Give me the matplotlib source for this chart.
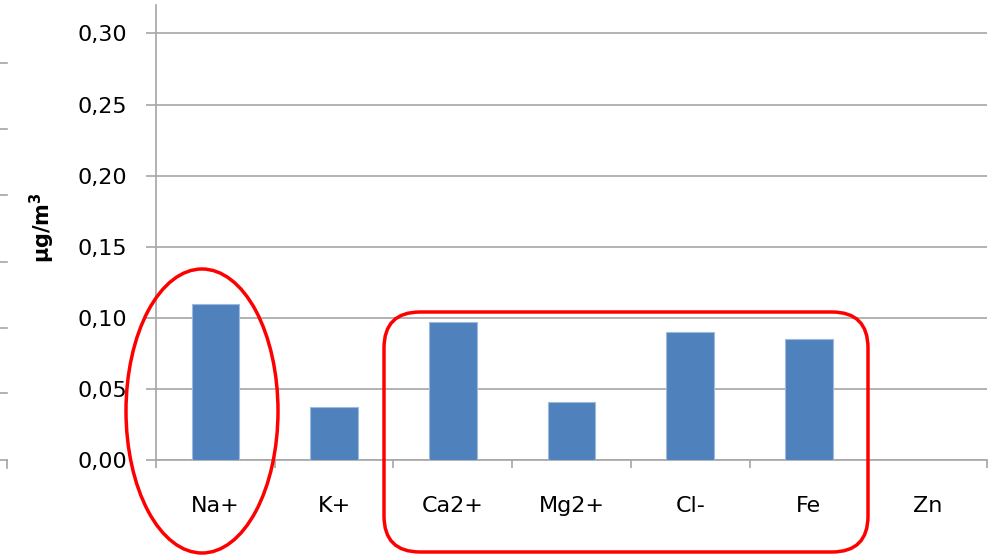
import matplotlib.pyplot as plt
from matplotlib.patches import Ellipse, FancyBboxPatch
from matplotlib.lines import Line2D
from matplotlib.ticker import FuncFormatter, FixedLocator

ions = ['Na+', 'K+', 'Ca2+', 'Mg2+', 'Cl-', 'Fe', 'Zn']
conc = [0.110, 0.037, 0.097, 0.041, 0.090, 0.085, 0.0]

W, H = 990, 556
fig = plt.figure(figsize=(W / 100, H / 100), dpi=100)
ax = fig.add_axes([156 / W, 1 - 460 / H, 831 / W, 455 / H])

x = range(len(ions))
ax.bar(x, conc, width=0.4, color='#4F81BD', edgecolor='#9DB9DE', linewidth=0.8, zorder=3)

ax.set_xlim(-0.5, len(ions) - 0.5)
ax.set_ylim(0, 0.32)
ax.yaxis.set_major_locator(FixedLocator([0, 0.05, 0.10, 0.15, 0.20, 0.25, 0.30]))
ax.yaxis.set_major_formatter(FuncFormatter(lambda v, p: f'{v:.2f}'.replace('.', ',')))
ax.grid(axis='y', color='#A6A6A6', linewidth=1.2, zorder=0)

# category boundaries carry the tick marks, names sit in between
ax.set_xticks([i - 0.5 for i in range(len(ions) + 1)])
ax.set_xticklabels([])
ax.set_xticks(list(x), minor=True)
ax.set_xticklabels(ions, minor=True, fontsize=16)
ax.tick_params(axis='x', which='major', length=6, color='#A6A6A6', width=1.2)
ax.tick_params(axis='x', which='minor', length=0, pad=26)
ax.tick_params(axis='y', length=7, color='#A6A6A6', width=1.2, pad=14, labelsize=16)

for s in ['top', 'right']:
    ax.spines[s].set_visible(False)
for s in ['left', 'bottom']:
    ax.spines[s].set_color('#A6A6A6')
    ax.spines[s].set_linewidth(1.2)

fig.text(42 / W, 1 - 228 / H, r'$\mathbf{\mu g/m^3}$', rotation=90, fontsize=15,
         ha='center', va='center')

# leftover axis ticks at the left edge
for yp in [63, 129, 195, 262, 328, 393, 460]:
    fig.add_artist(Line2D([0, 7 / W], [1 - yp / H] * 2, color='#A6A6A6', lw=1.2))
fig.add_artist(Line2D([7 / W] * 2, [1 - 460 / H, 1 - 468 / H], color='#A6A6A6', lw=1.2))

# red highlights
fig.add_artist(Ellipse((202 / W, 1 - 411 / H), 152 / W, 284 / H,
                       fill=False, edgecolor='red', lw=2.5, transform=fig.transFigure))
fig.add_artist(FancyBboxPatch((384 / W, 1 - 552 / H), 484 / W, 240 / H,
                              boxstyle='round,pad=0,rounding_size=%f' % (36 / W),
                              mutation_aspect=W / H,
                              fill=False, edgecolor='red', lw=2.5, transform=fig.transFigure))

fig.savefig('out.png', dpi=100)
